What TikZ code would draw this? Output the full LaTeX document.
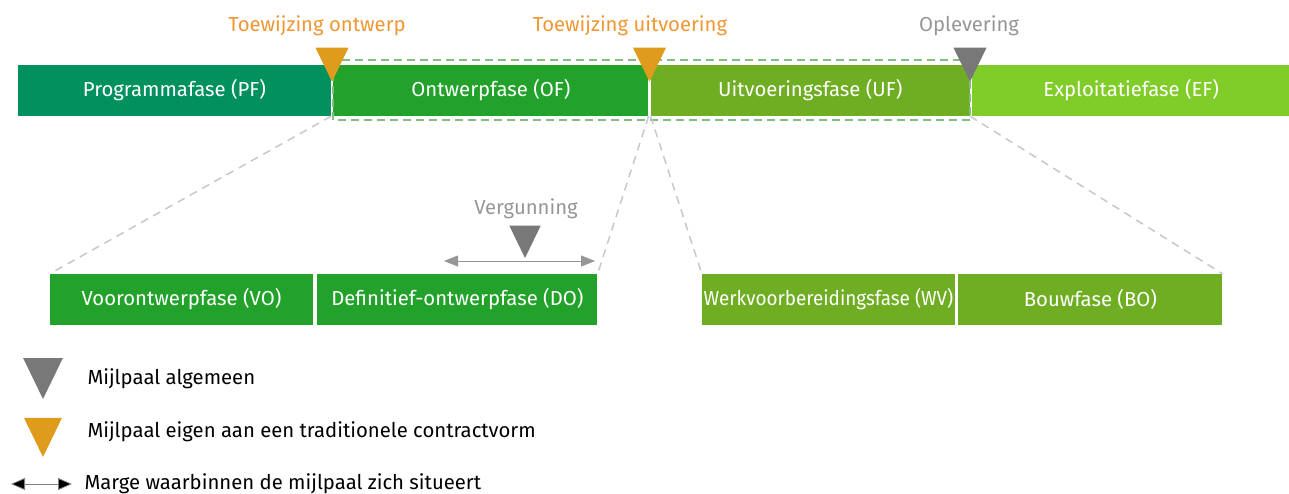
\documentclass[tikz,border=0pt]{standalone}
\usepackage{fontspec}
\setmainfont{Fira Sans}
\usetikzlibrary{positioning,arrows.meta}

\definecolor{pfgreen}{RGB}{0,145,95}
\definecolor{ofgreen}{RGB}{34,162,42}
\definecolor{ufgreen}{RGB}{111,174,34}
\definecolor{efgreen}{RGB}{128,204,40}
\definecolor{orangetext}{RGB}{240,150,50}
\definecolor{orangetri}{RGB}{222,155,28}
\definecolor{graytext}{RGB}{150,150,150}
\definecolor{graytri}{RGB}{120,120,120}
\definecolor{dashgreen}{RGB}{130,190,130}
\definecolor{dashgray}{RGB}{200,200,200}

\tikzset{
  phase_box/.style={rectangle, minimum height=51pt, inner sep=0pt, text=white, font=\fontsize{20.3}{24}\selectfont},
  ms_label/.style={font=\fontsize{20.3}{24}\selectfont},
  legend_text/.style={anchor=west, text=black, font=\fontsize{20.3}{24}\selectfont},
  pics/milestone/.style={code={\fill[#1] (-16.5,-34) -- (16.5,-34) -- (0,0) -- cycle;}},
}

\begin{document}
\begin{tikzpicture}[
  x=1pt, y=-1pt,
  dash_green/.style={dash pattern=on 8pt off 5pt, line width=1.5pt, draw=dashgreen},
  dash_gray/.style={dash pattern=on 8pt off 6pt, line width=1.5pt, draw=dashgray},
  marge_arrow/.style={{Triangle[length=14pt,width=11pt]}-{Triangle[length=14pt,width=11pt]}, thick},
  ]
  \useasboundingbox (0,0) rectangle (1289,493);

  \node[phase_box, fill=pfgreen, minimum width=313pt] (pf) at (174.5,90.5) {Programmafase (PF)};
  \node[phase_box, fill=ofgreen, minimum width=315pt, right=2pt of pf] (of) {Ontwerpfase (OF)};
  \node[phase_box, fill=ufgreen, minimum width=319pt, right=2pt of of] (uf) {Uitvoeringsfase (UF)};
  \node[phase_box, fill=efgreen, minimum width=318pt, right=2pt of uf] (ef) {Exploitatiefase (EF)};

  \draw[dash_green] ([yshift=5pt]of.north west) rectangle ([yshift=-4pt]uf.south east);

  \node[phase_box, fill=ofgreen, minimum width=263pt] (vo) at (181.5,299.5) {Voorontwerpfase (VO)};
  \node[phase_box, fill=ofgreen, minimum width=280pt, right=4pt of vo] (do) {Definitief-ontwerpfase (DO)};
  \node[phase_box, fill=ufgreen, minimum width=253pt] (wv) at (828.5,299.5) {\scalebox{0.93}[1]{Werkvoorbereidingsfase (WV)}};
  \node[phase_box, fill=ufgreen, minimum width=264pt, right=3pt of wv] (bo) {Bouwfase (BO)};

  \foreach \From/\To in {pf.south east/vo.north west, of.south east/do.north east,
                         uf.south west/wv.north west, uf.south east/bo.north east}{
    \draw[dash_gray] (\From) -- (\To);
  }

  \node[ms_label, text=orangetext] (tw_ontwerp) at (317,26) {Toewijzing ontwerp};
  \node[ms_label, text=orangetext] (tw_uitvoering) at (630,26) {Toewijzing uitvoering};
  \node[ms_label, text=graytext] (oplevering) at (969,26) {Oplevering};
  \node[ms_label, text=graytext] (vergunning) at (526,209) {Vergunning};

  \pic at (332,81.7) {milestone=orangetri};
  \pic at (649.5,81.7) {milestone=orangetri};
  \pic at (970,81.7) {milestone=graytri};
  \pic[scale=0.95] at (525,258) {milestone=graytri};

  \coordinate (marge_l) at (444,261);
  \coordinate (marge_r) at (595,261);
  \draw[marge_arrow, draw=graytext, fill=graytri] (marge_l) -- (marge_r);

  % legenda
  \pic[scale=1.2] at (43,399) {milestone=graytri};
  \node[legend_text] (leg_algemeen) at (84,379) {Mijlpaal algemeen};
  \pic[scale=1.15] at (43,457) {milestone=orangetri};
  \node[legend_text] (leg_traditioneel) at (84,432) {Mijlpaal eigen aan een traditionele contractvorm};
  \coordinate (leg_l) at (11,484);
  \coordinate (leg_r) at (72,484);
  \draw[marge_arrow, draw=gray, fill=black, {Triangle[length=14pt,width=12pt,fill=black]}-{Triangle[length=14pt,width=12pt,fill=black]}] (leg_l) -- (leg_r);
  \node[legend_text] (leg_marge) at (81,484) {Marge waarbinnen de mijlpaal zich situeert};
\end{tikzpicture}
\end{document}
